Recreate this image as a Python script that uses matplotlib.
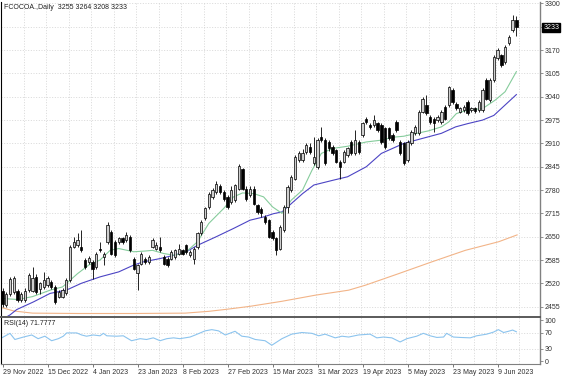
import matplotlib
matplotlib.use("Agg")
import matplotlib.pyplot as plt
import matplotlib.transforms as mtransforms
import numpy as np

plt.rcParams['font.family'] = ['Liberation Sans', 'DejaVu Sans']

# Daily OHLC, one row per trading day starting 29 Nov 2022
opens = [2500, 2460, 2490, 2496, 2500, 2473, 2473, 2501, 2500, 2538, 2505, 2510, 2515, 2524, 2510, 2482,
         2482, 2492, 2529, 2622, 2627, 2622, 2585, 2580, 2580, 2566, 2617, 2594, 2636, 2664, 2636, 2636,
         2645, 2640, 2650, 2589, 2548, 2575, 2589, 2580, 2622, 2617, 2622, 2594, 2589, 2589, 2594, 2603,
         2612, 2626, 2598, 2589, 2622, 2659, 2701, 2733, 2761, 2775, 2790, 2775, 2761, 2747, 2752, 2784,
         2838, 2784, 2765, 2784, 2738, 2728, 2705, 2696, 2664, 2645, 2617, 2668, 2733, 2780, 2812, 2863,
         2863, 2886, 2900, 2854, 2845, 2928, 2919, 2914, 2900, 2891, 2859, 2859, 2877, 2914, 2882, 2914,
         2933, 2979, 2961, 2961, 2966, 2961, 2952, 2952, 2933, 2970, 2914, 2910, 2863, 2910, 2938, 2938,
         2998, 3017, 2984, 2979, 2975, 2970, 3012, 3017, 3058, 3021, 2998, 3003, 3026, 3003, 3008, 3003,
         3003, 3086, 3031, 3086, 3147, 3156, 3137, 3189, 3226, 3255]
highs = [2506, 2495, 2538, 2540, 2505, 2495, 2506, 2548, 2566, 2545, 2525, 2552, 2540, 2530, 2515, 2502,
         2506, 2534, 2626, 2650, 2660, 2668, 2590, 2595, 2585, 2608, 2636, 2608, 2692, 2668, 2640, 2650,
         2650, 2664, 2655, 2594, 2575, 2608, 2594, 2598, 2645, 2636, 2650, 2598, 2594, 2612, 2617, 2631,
         2617, 2630, 2612, 2622, 2664, 2696, 2733, 2775, 2785, 2805, 2798, 2780, 2765, 2790, 2798, 2852,
         2842, 2790, 2790, 2790, 2742, 2733, 2710, 2700, 2670, 2650, 2682, 2738, 2794, 2822, 2878, 2890,
         2895, 2912, 2910, 2928, 2924, 2956, 2924, 2919, 2905, 2895, 2864, 2891, 2900, 2919, 2947, 2919,
         2970, 2984, 2966, 2989, 2970, 2966, 2956, 2956, 2938, 2975, 2919, 2914, 2919, 2947, 2961, 3003,
         3040, 3044, 2989, 2984, 2989, 3003, 3017, 3070, 3063, 3026, 3012, 3017, 3031, 3012, 3012, 3031,
         3063, 3091, 3091, 3156, 3175, 3160, 3184, 3212, 3268, 3264]
lows = [2455, 2455, 2485, 2490, 2468, 2468, 2468, 2496, 2495, 2490, 2490, 2505, 2510, 2505, 2462, 2478,
        2478, 2488, 2525, 2618, 2622, 2608, 2560, 2575, 2533, 2560, 2608, 2571, 2630, 2598, 2594, 2630,
        2630, 2636, 2608, 2556, 2501, 2570, 2575, 2575, 2618, 2612, 2608, 2570, 2566, 2584, 2589, 2598,
        2598, 2603, 2594, 2573, 2617, 2654, 2696, 2728, 2756, 2770, 2770, 2750, 2728, 2742, 2747, 2780,
        2780, 2750, 2760, 2737, 2714, 2705, 2686, 2645, 2640, 2598, 2612, 2664, 2715, 2775, 2808, 2858,
        2858, 2880, 2880, 2850, 2840, 2914, 2850, 2890, 2878, 2855, 2812, 2855, 2872, 2878, 2878, 2880,
        2928, 2965, 2950, 2956, 2942, 2908, 2895, 2919, 2914, 2942, 2878, 2850, 2858, 2905, 2933, 2933,
        2994, 2989, 2965, 2942, 2970, 2965, 2975, 3012, 3021, 3003, 2994, 2998, 2989, 2998, 2996, 2998,
        2998, 3030, 3026, 3082, 3142, 3124, 3132, 3184, 3220, 3208]
closes = [2462, 2490, 2532, 2534, 2473, 2490, 2500, 2543, 2534, 2497, 2520, 2529, 2534, 2510, 2468, 2496,
          2501, 2529, 2622, 2636, 2640, 2612, 2566, 2590, 2561, 2603, 2612, 2603, 2682, 2603, 2600, 2645,
          2636, 2654, 2613, 2561, 2571, 2603, 2580, 2594, 2640, 2626, 2612, 2575, 2571, 2608, 2612, 2617,
          2603, 2608, 2608, 2617, 2659, 2691, 2729, 2770, 2780, 2798, 2775, 2756, 2733, 2780, 2794, 2847,
          2784, 2756, 2784, 2742, 2719, 2715, 2691, 2650, 2645, 2612, 2677, 2733, 2789, 2817, 2873, 2882,
          2882, 2905, 2886, 2873, 2919, 2919, 2854, 2896, 2882, 2859, 2845, 2886, 2896, 2882, 2919, 2886,
          2966, 2970, 2956, 2975, 2947, 2914, 2900, 2924, 2919, 2947, 2882, 2854, 2914, 2942, 2956, 2998,
          3035, 2994, 2970, 2966, 2984, 2998, 2979, 3066, 3026, 3008, 3008, 3012, 2994, 3008, 3000, 3026,
          3058, 3035, 3086, 3151, 3170, 3128, 3179, 3207, 3254, 3233]

# moving averages (bar position, price)
ma_fast_bar = [-0.4, 4, 8, 12.7, 16, 20, 23, 26, 28.7, 31, 35, 38, 40, 43, 46, 49, 52, 55, 59, 61.6, 64,
               67, 69.6, 72, 74.5, 77, 80, 82.5, 85, 88, 92, 97, 101, 104, 107, 110, 113.6, 117, 119, 121,
               124, 128, 131.4, 134, 137]
ma_fast = [2478, 2475, 2483, 2501, 2510, 2547, 2571, 2585, 2612, 2617, 2608, 2610, 2612, 2603, 2598, 2608,
           2636, 2687, 2729, 2761, 2772, 2770, 2761, 2733, 2715, 2752, 2780, 2835, 2882, 2896, 2902, 2914,
           2919, 2927, 2930, 2937, 2945, 2956, 2970, 2993, 3003, 3007, 3031, 3054, 3110]
ma_slow_bar = [0, 2, 3.8, 8.2, 12.7, 17, 21, 26, 31, 35, 37.6, 42, 45.6, 49, 52, 57, 61.6, 66, 69.6, 72.2,
               74.5, 80, 83, 88, 92, 97, 101, 104, 107, 112, 117, 120.8, 124, 128, 131, 134, 137]
ma_slow = [2420, 2432, 2447, 2468, 2492, 2501, 2520, 2538, 2552, 2571, 2580, 2589, 2598, 2608, 2626, 2650,
           2673, 2696, 2705, 2714, 2719, 2770, 2794, 2807, 2817, 2845, 2882, 2896, 2910, 2924, 2938, 2956,
           2965, 2975, 2988, 3017, 3046]
ma_long_bar = [-0.4, 3, 8, 20, 35, 48.7, 55, 60, 66, 74.5, 83.4, 92.3, 96.8, 105.6, 114.5, 123.4, 132.3, 137.2]
ma_long = [2453, 2443, 2437, 2436, 2436, 2437, 2442, 2448, 2456, 2470, 2487, 2501, 2515, 2547, 2580, 2612,
           2636, 2655]

# RSI(14)
rsi_bar = [-0.2, 2, 3.3, 5.6, 7.8, 9.5, 11.3, 13.1, 14.9, 16.2, 17.1, 19.8, 21.1, 22.4, 24.2, 26, 26.9,
           27.8, 30.4, 32.2, 34.4, 36.7, 38.4, 40.2, 42, 43.8, 45.6, 47.3, 50, 51.4, 54, 55.8, 57.6, 59.4,
           62, 63.8, 65.6, 67.4, 70, 71.8, 74.5, 77.1, 79.8, 82.5, 84.3, 86, 88.7, 90.5, 92.3, 94.9, 98,
           99.8, 101.6, 103.8, 106, 107.8, 110.4, 112.2, 114, 115.8, 117.6, 118.4, 120.2, 122, 124.7, 126.4,
           129.1, 130.9, 132.2, 133.6, 134.9, 136, 137]
rsi = [57, 68, 53, 59, 64, 55, 61, 50, 55, 61, 69, 69, 64, 61, 64, 62, 68, 62, 61, 62, 50, 55, 53, 57, 50,
       55, 57, 55, 59, 64, 74, 77, 74, 64, 73, 61, 59, 53, 50, 39, 55, 66, 70, 68, 62, 66, 57, 61, 59, 64,
       66, 57, 59, 57, 47, 55, 61, 68, 62, 58, 59, 68, 59, 58, 57, 62, 66, 71, 77, 70, 73, 76, 71.78]

date_labels = ["29 Nov 2022", "15 Dec 2022", "4 Jan 2023", "23 Jan 2023", "8 Feb 2023", "27 Feb 2023",
               "15 Mar 2023", "31 Mar 2023", "19 Apr 2023", "5 May 2023", "23 May 2023", "9 Jun 2023"]
date_bars = [0, 12, 24, 36, 48, 60, 72, 84, 96, 108, 120, 132]
price_ticks = [2455, 2520, 2585, 2650, 2715, 2780, 2845, 2910, 2975, 3040, 3105, 3170, 3235, 3300]
rsi_ticks = [0, 30, 70, 100]

W, H = 564, 376
fig = plt.figure(figsize=(W / 100, H / 100), dpi=100)
ax = fig.add_axes([1 / W, 60 / H, 539 / W, 314 / H])
ax2 = fig.add_axes([1 / W, 12 / H, 539 / W, 47.5 / H])

grid_kw = dict(color='#d2d2d2', lw=0.6, ls=(0, (1.2, 2.0)))
x = np.arange(len(closes))
o, h, l, c = map(np.array, (opens, highs, lows, closes))
up = c >= o

for a in (ax, ax2):
    a.set_xlim(-0.4, 143.3)
    for gx in np.arange(0, 144, 6) - 0.3:
        a.axvline(gx, zorder=0, **grid_kw)
    a.spines['top'].set_visible(False)
    a.spines['left'].set_color('#000000')
    a.spines['left'].set_linewidth(0.8)
    a.spines['right'].set_color('#808080')
    a.spines['right'].set_linewidth(1.0)
    a.yaxis.tick_right()
    a.tick_params(axis='y', length=2, width=0.6, color='#808080', pad=1.5, labelsize=5, labelcolor='#303030')

# price panel
ax.set_ylim(2429, 3304)
for py in price_ticks:
    ax.axhline(py, zorder=0, **grid_kw)
ax.plot(ma_long_bar, ma_long, color='#f2b488', lw=0.8, zorder=2)
ax.plot(ma_slow_bar, ma_slow, color='#4c44c4', lw=0.8, zorder=2)
ax.plot(ma_fast_bar, ma_fast, color='#86cc9c', lw=0.8, zorder=2)
ax.vlines(x, l, h, color='black', lw=0.6, zorder=3)
ax.bar(x, np.maximum(np.abs(c - o), 1.5), bottom=np.minimum(o, c), width=0.62,
       color=np.where(up, '#cfcfcf', '#000000'), edgecolor='black', linewidth=0.5, zorder=4)
ax.set_yticks(price_ticks)
ax.set_yticklabels([str(t) if t != 3235 else '' for t in price_ticks])
ax.set_xticks([])
ax.spines['bottom'].set_visible(False)
ax.text(0.006, 0.993, 'FCOCOA.,Daily  3255 3264 3208 3233', transform=ax.transAxes,
        fontsize=5, va='top', ha='left', color='#202020')
trans = mtransforms.blended_transform_factory(ax.transAxes, ax.transData)
ax.text(1.006, closes[-1], str(closes[-1]), transform=trans, fontsize=5, color='white',
        va='center', ha='left', bbox=dict(boxstyle='square,pad=0.15', fc='black', ec='black'))

# RSI panel
ax2.set_ylim(-6.7, 109)
for ry in (30, 70):
    ax2.axhline(ry, zorder=0, **grid_kw)
ax2.plot(rsi_bar, rsi, color='#8cc4ee', lw=0.8)
ax2.set_yticks(rsi_ticks)
ax2.set_yticklabels([str(t) for t in rsi_ticks])
ax2.spines['top'].set_visible(True)
ax2.spines['top'].set_color('#5a5a5a')
ax2.spines['top'].set_linewidth(1.4)
ax2.spines['bottom'].set_color('#808080')
ax2.set_xticks(date_bars)
ax2.set_xticklabels(date_labels, ha='left')
ax2.tick_params(axis='x', length=2, width=0.6, color='#606060', pad=1.5, labelsize=5, labelcolor='#303030')
ax2.text(0.006, 0.93, 'RSI(14) 71.7777', transform=ax2.transAxes, fontsize=5, va='top', ha='left',
         color='#202020')

fig.savefig('out.png', dpi=100, facecolor='white')
